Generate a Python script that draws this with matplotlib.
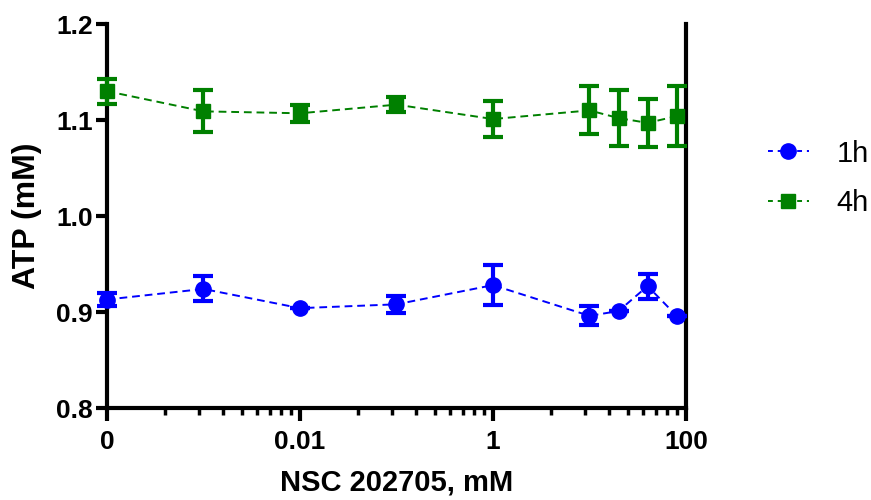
import numpy as np
import matplotlib
matplotlib.use("Agg")
import matplotlib.pyplot as plt
from matplotlib.lines import Line2D
from matplotlib.ticker import FixedLocator, NullFormatter

# concentration (0 plotted at 1e-4 on the log axis)
conc = [1e-4, 1e-3, 1e-2, 1e-1, 1, 10, 20, 40, 80]

atp_1h = [0.913, 0.924, 0.904, 0.908, 0.928, 0.896, 0.901, 0.927, 0.896]
err_1h = [0.007, 0.013, 0.0, 0.009, 0.021, 0.010, 0.0, 0.013, 0.0]

atp_4h = [1.130, 1.109, 1.107, 1.116, 1.101, 1.110, 1.102, 1.097, 1.104]
err_4h = [0.013, 0.022, 0.009, 0.008, 0.019, 0.025, 0.029, 0.025, 0.031]

xtick_pos = [1e-4, 1e-2, 1, 100]
xtick_labels = ["0", "0.01", "1", "100"]
ytick_pos = [0.8, 0.9, 1.0, 1.1, 1.2]

plt.rcParams["font.family"] = ["Liberation Sans", "DejaVu Sans"]

fig = plt.figure(figsize=(8.71, 5.0), dpi=100)
ax = fig.add_axes([0.1228, 0.184, 0.6648, 0.768])

blue, green = "#0000ff", "#008000"
ax.errorbar(conc, atp_1h, yerr=err_1h, color=blue, marker="o", markersize=11,
            linestyle="--", linewidth=1.4, dashes=(4, 2.5), elinewidth=3,
            capsize=7, capthick=3, clip_on=False, zorder=3)
ax.errorbar(conc, atp_4h, yerr=err_4h, color=green, marker="s", markersize=10,
            linestyle="--", linewidth=1.4, dashes=(4, 2.5), elinewidth=3,
            capsize=7, capthick=3, clip_on=False, zorder=3)

ax.set_xscale("log")
ax.set_xlim(1e-4, 100)
ax.set_ylim(0.8, 1.2)

ax.xaxis.set_major_locator(FixedLocator(xtick_pos))
ax.set_xticklabels(xtick_labels)
minor = [10.0 ** e * k ** 2 for e in (-4, -2, 0) for k in range(2, 10)]
ax.xaxis.set_minor_locator(FixedLocator(minor))
ax.xaxis.set_minor_formatter(NullFormatter())
ax.set_yticks(ytick_pos)
ax.set_yticklabels([f"{v:.1f}" for v in ytick_pos])

for s in ("left", "bottom", "right"):
    ax.spines[s].set_linewidth(3)
ax.spines["top"].set_visible(False)

ax.tick_params(axis="both", which="major", length=8, width=3, labelsize=19, pad=2)
ax.tick_params(axis="x", which="major", length=9, pad=7)
ax.tick_params(axis="x", which="minor", length=5, width=2.5)
ax.tick_params(axis="y", which="both", right=False)
for lab in ax.get_xticklabels() + ax.get_yticklabels():
    lab.set_fontweight("bold")

ax.set_xlabel("NSC 202705, mM", fontsize=21, fontweight="bold", labelpad=10)
ax.set_ylabel("ATP (mM)", fontsize=23, fontweight="bold", labelpad=10)

handles = [
    Line2D([], [], color=blue, marker="o", markersize=11, linestyle="--",
           linewidth=1.4, dashes=(2.5, 2.5)),
    Line2D([], [], color=green, marker="s", markersize=10, linestyle="--",
           linewidth=1.4, dashes=(2.5, 2.5)),
]
ax.legend(handles, ["1h", "4h"], loc="center left",
          bbox_to_anchor=(768 / 871, 1 - 178.5 / 500), bbox_transform=fig.transFigure,
          frameon=False, fontsize=21, handlelength=1.4, labelspacing=0.75,
          handletextpad=0.95, borderpad=0, borderaxespad=0)

fig.savefig("out.png", dpi=100)
